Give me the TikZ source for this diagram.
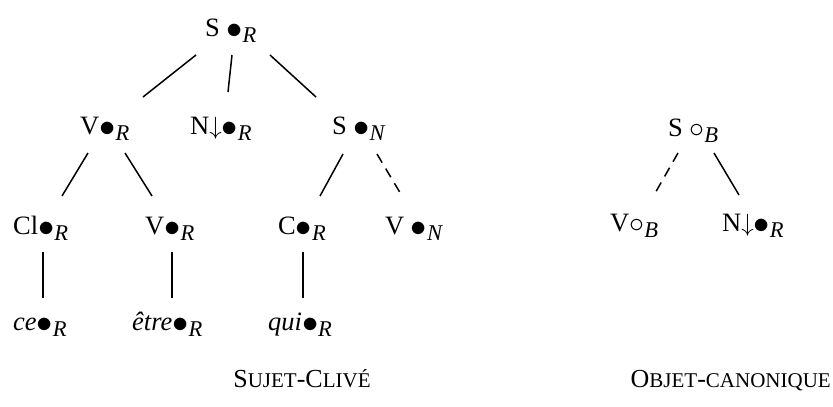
\documentclass[tikz,border=0pt]{standalone}
\usepackage{fontspec}
\setmainfont{Liberation Serif}
\usetikzlibrary{calc}
\newcommand\dsub[1]{\raisebox{-0.08em}{\scalebox{1.3}{$\bullet$}}\raisebox{-0.55ex}{\scalebox{0.85}{\itshape #1}}}
\newcommand\csub[1]{\raisebox{-0.05em}{\scalebox{1.2}{$\circ$}}\raisebox{-0.55ex}{\scalebox{0.85}{\itshape #1}}}
\newcommand\smc[1]{{\fontsize{21}{24}\selectfont #1}}
\begin{document}
\begin{tikzpicture}[x=1pt,y=-1pt,
  lab/.style={anchor=base west,inner sep=0pt,font=\fontsize{26.5}{30}\selectfont},
  captext/.style={inner sep=0pt,font=\fontsize{26}{30}\selectfont},
  edge/.style={line width=1.5pt},
  dedge/.style={line width=1.5pt,dash pattern=on 10pt off 7pt}]
\useasboundingbox (0,0) rectangle (833,407);
% left tree
\node[lab] (r) at (205,36) {S \dsub{R}};
\node[lab] (v1) at (80,134) {V\dsub{R}};
\node[lab] (n1) at (190,134) {N$\downarrow$\dsub{R}};
\node[lab] (s2) at (332,134) {S \dsub{N}};
\node[lab] (cl) at (13,234) {Cl\dsub{R}};
\node[lab] (v3) at (145,234) {V\dsub{R}};
\node[lab] (c3) at (278,234) {C\dsub{R}};
\node[lab] (v4) at (385,234) {V \dsub{N}};
\node[lab] (ce) at (13,330) {\textit{ce}\dsub{R}};
\node[lab] (et) at (132,330) {\textit{être}\dsub{R}};
\node[lab] (qu) at (268,330) {\textit{qui}\dsub{R}};
\draw[edge] ($(r.base west)+(-9,19)$) -- ($(v1.base west)+(63,-37)$);
\draw[edge] ($(r.base west)+(27,19)$) -- ($(n1.base west)+(38,-42)$);
\draw[edge] ($(r.base west)+(65,19)$) -- ($(s2.base west)+(-16,-37)$);
\draw[edge] ($(v1.base west)+(8,19)$) -- ($(cl.base west)+(49,-38)$);
\draw[edge] ($(v1.base west)+(45,19)$) -- ($(v3.base west)+(7,-38)$);
\draw[edge] ($(s2.base west)+(11,20)$) -- ($(c3.base west)+(42,-38)$);
\draw[dedge] ($(s2.base west)+(45,20)$) -- ($(v4.base west)+(17,-38)$);
\draw[edge] ($(cl.base west)+(30,18)$) -- ($(ce.base west)+(30,-32)$);
\draw[edge] ($(v3.base west)+(27,18)$) -- ($(et.base west)+(40,-32)$);
\draw[edge] ($(c3.base west)+(25,18)$) -- ($(qu.base west)+(35,-32)$);
% right tree
\node[lab] (sb) at (668,136) {S \csub{B}};
\node[lab] (vb) at (610,231) {V\csub{B}};
\node[lab] (nb) at (722,231) {N$\downarrow$\dsub{R}};
\draw[dedge] ($(sb.base west)+(10,17)$) -- ($(vb.base west)+(44,-36)$);
\draw[edge] ($(sb.base west)+(46,17)$) -- ($(nb.base west)+(17,-36)$);
% captions
\node[captext,anchor=base] (c1) at (302,387) {S\smc{UJET}-C\smc{LIVÉ}};
\node[captext,anchor=base east] (c2) at (831,387) {O\smc{BJET}-\smc{CANONIQUE}};
\end{tikzpicture}
\end{document}
